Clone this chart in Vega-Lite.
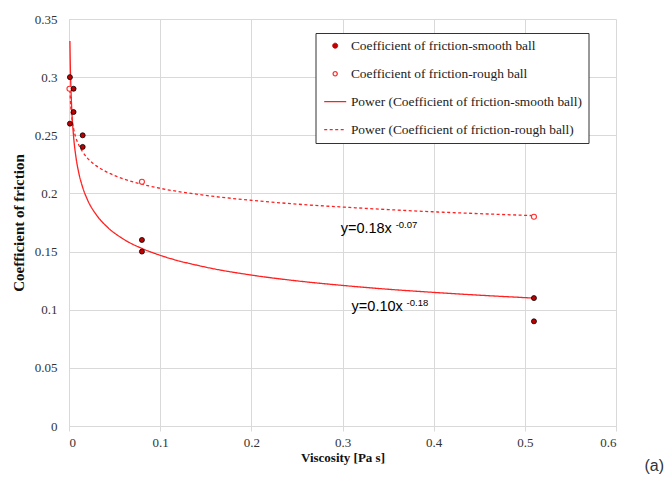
{
  "$schema": "https://vega.github.io/schema/vega-lite/v6.json",
  "width": 547,
  "height": 407,
  "autosize": {"type": "none"},
  "padding": {"left": 69, "top": 19, "right": 56, "bottom": 54},
  "background": "white",
  "config": {
    "view": {"stroke": null},
    "axis": {
      "gridColor": "#d9d9d9",
      "gridWidth": 1,
      "domainColor": "#d9d9d9",
      "tickColor": "#d9d9d9",
      "labelFont": "Liberation Serif",
      "labelFontSize": 13,
      "labelColor": "#333333",
      "titleFont": "Liberation Serif",
      "titleFontWeight": "bold",
      "titleColor": "#111111"
    }
  },
  "datasets": {
    "smooth": [
      {"x": 0.001, "y": 0.30, "series": "Coefficient of friction-smooth ball"},
      {"x": 0.001, "y": 0.26, "series": "Coefficient of friction-smooth ball"},
      {"x": 0.005, "y": 0.29, "series": "Coefficient of friction-smooth ball"},
      {"x": 0.005, "y": 0.27, "series": "Coefficient of friction-smooth ball"},
      {"x": 0.015, "y": 0.25, "series": "Coefficient of friction-smooth ball"},
      {"x": 0.015, "y": 0.24, "series": "Coefficient of friction-smooth ball"},
      {"x": 0.08, "y": 0.16, "series": "Coefficient of friction-smooth ball"},
      {"x": 0.08, "y": 0.15, "series": "Coefficient of friction-smooth ball"},
      {"x": 0.51, "y": 0.11, "series": "Coefficient of friction-smooth ball"},
      {"x": 0.51, "y": 0.09, "series": "Coefficient of friction-smooth ball"}
    ],
    "rough": [
      {"x": 0.0005, "y": 0.29, "series": "Coefficient of friction-rough ball"},
      {"x": 0.08, "y": 0.21, "series": "Coefficient of friction-rough ball"},
      {"x": 0.51, "y": 0.18, "series": "Coefficient of friction-rough ball"}
    ],
    "fits": [
      {"x": 0.001, "y": 0.331, "series": "Power (Coefficient of friction-smooth ball)"},
      {"x": 0.0015, "y": 0.308, "series": "Power (Coefficient of friction-smooth ball)"},
      {"x": 0.002, "y": 0.293, "series": "Power (Coefficient of friction-smooth ball)"},
      {"x": 0.003, "y": 0.2727, "series": "Power (Coefficient of friction-smooth ball)"},
      {"x": 0.005, "y": 0.2492, "series": "Power (Coefficient of friction-smooth ball)"},
      {"x": 0.0075, "y": 0.2319, "series": "Power (Coefficient of friction-smooth ball)"},
      {"x": 0.01, "y": 0.2204, "series": "Power (Coefficient of friction-smooth ball)"},
      {"x": 0.015, "y": 0.2052, "series": "Power (Coefficient of friction-smooth ball)"},
      {"x": 0.02, "y": 0.195, "series": "Power (Coefficient of friction-smooth ball)"},
      {"x": 0.03, "y": 0.1816, "series": "Power (Coefficient of friction-smooth ball)"},
      {"x": 0.04, "y": 0.1726, "series": "Power (Coefficient of friction-smooth ball)"},
      {"x": 0.06, "y": 0.1606, "series": "Power (Coefficient of friction-smooth ball)"},
      {"x": 0.08, "y": 0.1527, "series": "Power (Coefficient of friction-smooth ball)"},
      {"x": 0.1, "y": 0.1468, "series": "Power (Coefficient of friction-smooth ball)"},
      {"x": 0.15, "y": 0.1366, "series": "Power (Coefficient of friction-smooth ball)"},
      {"x": 0.2, "y": 0.1298, "series": "Power (Coefficient of friction-smooth ball)"},
      {"x": 0.25, "y": 0.1248, "series": "Power (Coefficient of friction-smooth ball)"},
      {"x": 0.3, "y": 0.1209, "series": "Power (Coefficient of friction-smooth ball)"},
      {"x": 0.35, "y": 0.1176, "series": "Power (Coefficient of friction-smooth ball)"},
      {"x": 0.4, "y": 0.1149, "series": "Power (Coefficient of friction-smooth ball)"},
      {"x": 0.45, "y": 0.1125, "series": "Power (Coefficient of friction-smooth ball)"},
      {"x": 0.51, "y": 0.11, "series": "Power (Coefficient of friction-smooth ball)"},
      {"x": 0.001, "y": 0.289, "series": "Power (Coefficient of friction-rough ball)"},
      {"x": 0.002, "y": 0.274, "series": "Power (Coefficient of friction-rough ball)"},
      {"x": 0.003, "y": 0.266, "series": "Power (Coefficient of friction-rough ball)"},
      {"x": 0.005, "y": 0.256, "series": "Power (Coefficient of friction-rough ball)"},
      {"x": 0.0075, "y": 0.248, "series": "Power (Coefficient of friction-rough ball)"},
      {"x": 0.01, "y": 0.243, "series": "Power (Coefficient of friction-rough ball)"},
      {"x": 0.015, "y": 0.2357, "series": "Power (Coefficient of friction-rough ball)"},
      {"x": 0.02, "y": 0.2306, "series": "Power (Coefficient of friction-rough ball)"},
      {"x": 0.03, "y": 0.2237, "series": "Power (Coefficient of friction-rough ball)"},
      {"x": 0.04, "y": 0.219, "series": "Power (Coefficient of friction-rough ball)"},
      {"x": 0.06, "y": 0.2124, "series": "Power (Coefficient of friction-rough ball)"},
      {"x": 0.08, "y": 0.2079, "series": "Power (Coefficient of friction-rough ball)"},
      {"x": 0.1, "y": 0.2044, "series": "Power (Coefficient of friction-rough ball)"},
      {"x": 0.15, "y": 0.1983, "series": "Power (Coefficient of friction-rough ball)"},
      {"x": 0.2, "y": 0.1941, "series": "Power (Coefficient of friction-rough ball)"},
      {"x": 0.25, "y": 0.1908, "series": "Power (Coefficient of friction-rough ball)"},
      {"x": 0.3, "y": 0.1883, "series": "Power (Coefficient of friction-rough ball)"},
      {"x": 0.35, "y": 0.1861, "series": "Power (Coefficient of friction-rough ball)"},
      {"x": 0.4, "y": 0.1842, "series": "Power (Coefficient of friction-rough ball)"},
      {"x": 0.45, "y": 0.1826, "series": "Power (Coefficient of friction-rough ball)"},
      {"x": 0.51, "y": 0.1809, "series": "Power (Coefficient of friction-rough ball)"}
    ],
    "equations": [
      {"x": 0.298, "y": 0.166, "main": "y=0.18x", "sup": "-0.07"},
      {"x": 0.31, "y": 0.0991, "main": "y=0.10x", "sup": "-0.18"}
    ],
    "panel": [
      {"x": 0.642, "y": -0.0345, "label": "(a)"}
    ]
  },
  "encoding": {
    "x": {
      "field": "x",
      "type": "quantitative",
      "scale": {"domain": [0, 0.6], "nice": false, "zero": false},
      "axis": {
        "title": "Viscosity [Pa s]",
        "values": [0, 0.1, 0.2, 0.3, 0.4, 0.5, 0.6],
        "format": "~g",
        "tickSize": 5,
        "labelPadding": 5,
        "titleFontSize": 13,
        "titlePadding": 2
      }
    },
    "y": {
      "field": "y",
      "type": "quantitative",
      "scale": {"domain": [0, 0.35], "nice": false, "zero": false},
      "axis": {
        "title": "Coefficient of friction",
        "values": [0, 0.05, 0.1, 0.15, 0.2, 0.25, 0.3, 0.35],
        "format": "~g",
        "ticks": false,
        "labelPadding": 12,
        "titleFontSize": 15,
        "titlePadding": 8
      }
    },
    "color": {
      "field": "series",
      "type": "nominal",
      "scale": {
        "domain": [
          "Coefficient of friction-smooth ball",
          "Coefficient of friction-rough ball",
          "Power (Coefficient of friction-smooth ball)",
          "Power (Coefficient of friction-rough ball)"
        ],
        "range": ["#c00000", "#ff2d2d", "#ff2020", "#ff2020"]
      },
      "legend": {
        "title": null,
        "orient": "none",
        "legendX": 246.5,
        "legendY": 14,
        "padding": 6,
        "strokeColor": "#333333",
        "fillColor": "#ffffff",
        "labelFont": "Liberation Serif",
        "labelFontSize": 13.4,
        "labelColor": "#222222",
        "labelLimit": 400,
        "symbolSize": 100,
        "rowPadding": 13,
        "symbolOffset": 7,
        "labelOffset": 9,
        "encode": {
          "symbols": {
            "update": {
              "shape": {"signal": "datum.value === 'Coefficient of friction-smooth ball' ? 'circle' : (datum.value === 'Coefficient of friction-rough ball' ? 'M1,0A1,1,0,1,0,-1,0A1,1,0,1,0,1,0ZM0.55,0A0.55,0.55,0,1,1,-0.55,0A0.55,0.55,0,1,1,0.55,0Z' : 'stroke')"},
              "size": {"signal": "datum.value === 'Coefficient of friction-smooth ball' ? 25 : (datum.value === 'Coefficient of friction-rough ball' ? 30 : 484)"},
              "fill": {"signal": "datum.value === 'Coefficient of friction-smooth ball' ? '#c00000' : (datum.value === 'Coefficient of friction-rough ball' ? '#ff2d2d' : 'transparent')"},
              "stroke": {"signal": "datum.value === 'Coefficient of friction-smooth ball' ? '#000000' : '#ff2d2d'"},
              "strokeWidth": {"signal": "datum.value === 'Coefficient of friction-smooth ball' ? 1 : (datum.value === 'Coefficient of friction-rough ball' ? 0 : 1.3)"},
              "strokeDash": {"signal": "datum.value === 'Power (Coefficient of friction-rough ball)' ? [3, 2.5] : [1, 0]"},
              "opacity": {"value": 1}
            }
          }
        }
      }
    }
  },
  "layer": [
    {
      "data": {"name": "fits"},
      "mark": {"type": "line", "strokeWidth": 1.3, "interpolate": "monotone"},
      "encoding": {
        "strokeDash": {
          "field": "series",
          "type": "nominal",
          "scale": {
            "domain": ["Power (Coefficient of friction-smooth ball)", "Power (Coefficient of friction-rough ball)"],
            "range": [[1, 0], [3, 2.5]]
          },
          "legend": null
        }
      }
    },
    {
      "data": {"name": "rough"},
      "mark": {"type": "point", "filled": false, "fill": "#ffffff", "size": 25, "strokeWidth": 1.1, "opacity": 1}
    },
    {
      "data": {"name": "smooth"},
      "mark": {"type": "point", "filled": true, "size": 25, "stroke": "#000000", "strokeWidth": 0.8, "opacity": 1}
    },
    {
      "data": {"name": "equations"},
      "mark": {"type": "text", "align": "left", "baseline": "alphabetic", "font": "Liberation Sans", "fontSize": 14.5},
      "encoding": {
        "text": {"field": "main"},
        "color": {"value": "#000000"}
      }
    },
    {
      "data": {"name": "equations"},
      "mark": {"type": "text", "align": "left", "baseline": "alphabetic", "font": "Liberation Sans", "fontSize": 9.5, "dx": 55, "dy": -5},
      "encoding": {
        "text": {"field": "sup"},
        "color": {"value": "#000000"}
      }
    },
    {
      "data": {"name": "panel"},
      "mark": {"type": "text", "align": "center", "baseline": "middle", "font": "Liberation Sans", "fontSize": 16},
      "encoding": {
        "text": {"field": "label"},
        "color": {"value": "#333333"}
      }
    }
  ]
}
